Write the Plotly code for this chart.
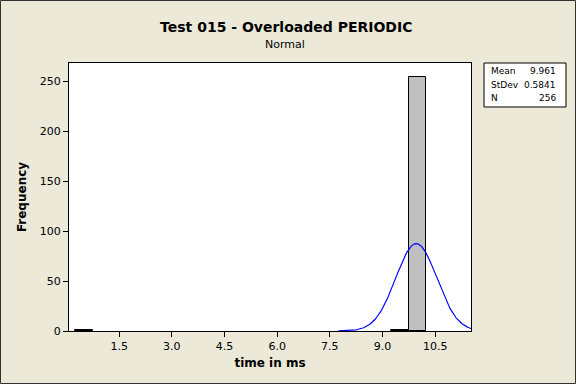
import numpy as np
import plotly.graph_objects as go

# Histogram bins (midpoints, width 0.5) and counts
bin_mids = [0.5, 9.5, 10.0]
counts = [1, 1, 254]
bin_width = 0.5

# Summary statistics (from the legend box)
mean = 9.961
stdev = 0.5841
n = 256

x_ticks = [1.5, 3.0, 4.5, 6.0, 7.5, 9.0, 10.5]
y_ticks = [0, 50, 100, 150, 200, 250]

x_range = [0.07, 11.52]
y_range = [0, 268]

# Fitted normal curve (drawn where it is visibly above zero)
xs = np.linspace(mean - 3.8 * stdev, x_range[1], 300)
ys = n * bin_width / (stdev * np.sqrt(2 * np.pi)) * np.exp(-0.5 * ((xs - mean) / stdev) ** 2)

W, H = 576, 384
L, R, T, B = 69, 105, 63, 53

fig = go.Figure()
fig.add_trace(go.Bar(x=bin_mids, y=counts, width=bin_width,
                     marker=dict(color="#C0C0C0", line=dict(color="black", width=1)),
                     showlegend=False, hoverinfo="skip"))
fig.add_trace(go.Scatter(x=xs, y=ys, mode="lines",
                         line=dict(color="#0000FF", width=1.2),
                         showlegend=False, hoverinfo="skip"))

font_family = "DejaVu Sans, Verdana, sans-serif"

fig.update_layout(
    width=W, height=H,
    margin=dict(l=L, r=R, t=T, b=B, autoexpand=False),
    paper_bgcolor="#ECE9D8",
    plot_bgcolor="white",
    font=dict(family=font_family, size=11, color="black"),
    title=dict(text="<b>Test 015 - Overloaded PERIODIC</b>", xref="container", x=0.497,
               yref="container", y=1 - 27 / H, yanchor="middle", xanchor="center",
               font=dict(size=14, family=font_family, color="black")),
    xaxis=dict(range=x_range, tickvals=x_ticks, ticktext=[f"{v:.1f}" for v in x_ticks],
               ticks="outside", ticklen=5, tickcolor="black", showgrid=False,
               zeroline=False, showline=True, linecolor="black", linewidth=1, mirror=True,
               title=dict(text="<b>time in ms</b>", font=dict(size=12), standoff=6),
               tickfont=dict(size=11)),
    yaxis=dict(range=y_range, tickvals=y_ticks, ticks="outside", ticklen=5, tickcolor="black",
               showgrid=False, zeroline=False, showline=True, linecolor="black", linewidth=1,
               mirror=True, title=dict(text="<b>Frequency</b>", font=dict(size=12), standoff=10),
               tickfont=dict(size=11)),
    bargap=0,
)

pw, ph = W - L - R, H - T - B
def px(xp):
    return (xp - L) / pw
def py(yp):
    return 1 - (yp - T) / ph

# Subtitle
fig.add_annotation(text="Normal", xref="paper", yref="paper",
                   x=px(285), y=py(44),
                   showarrow=False, xanchor="center", yanchor="middle",
                   font=dict(size=11, family=font_family))

# Stats box
fig.add_shape(type="rect", xref="paper", yref="paper",
              x0=px(484), x1=px(566), y0=py(63), y1=py(107),
              line=dict(color="black", width=1), fillcolor="white", layer="below")
labels = ["Mean", "StDev", "N"]
values = [f"{mean:.3f}", f"{stdev:.4f}", f"{n}"]
rows_y = [71, 85, 98]
for lab, val, ry in zip(labels, values, rows_y):
    fig.add_annotation(text=lab, xref="paper", yref="paper", x=px(489), y=py(ry),
                       showarrow=False, xanchor="left", yanchor="middle",
                       font=dict(size=9, family=font_family))
    fig.add_annotation(text=val, xref="paper", yref="paper", x=px(558), y=py(ry),
                       showarrow=False, xanchor="right", yanchor="middle",
                       font=dict(size=9, family=font_family))

# Outer frame
fig.add_shape(type="rect", xref="paper", yref="paper",
              x0=px(0.5), x1=px(W - 0.5), y0=py(H - 0.5), y1=py(0.5),
              line=dict(color="#333333", width=1))

fig.write_html("out.html", config={"displayModeBar": False},
               post_script="document.body.style.margin='0';document.body.style.padding='0';")
